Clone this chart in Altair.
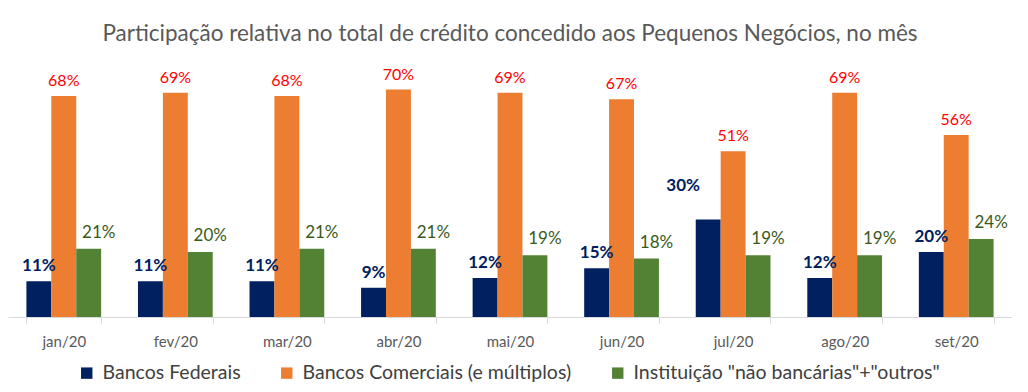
import altair as alt
import pandas as pd

months = ["jan/20", "fev/20", "mar/20", "abr/20", "mai/20", "jun/20", "jul/20", "ago/20", "set/20"]
series = ["Bancos Federais", "Bancos Comerciais (e múltiplos)", 'Instituição "não bancárias"+"outros"']
federais = [11, 11, 11, 9, 12, 15, 30, 12, 20]
comerciais = [68, 69, 68, 70, 69, 67, 51, 69, 56]
outros = [21, 20, 21, 21, 19, 18, 19, 19, 24]
colors = ["#002060", "#ED7D31", "#548235"]

rows = []
for i, m in enumerate(months):
    for s, vals in zip(series, [federais, comerciais, outros]):
        rows.append({"month": m, "series": s, "value": vals[i], "label": f"{vals[i]}%"})
df = pd.DataFrame(rows)

FONT = "Lato"

x = alt.X(
    "month:N",
    sort=months,
    scale=alt.Scale(paddingInner=0.33, paddingOuter=0.165),
    axis=alt.Axis(
        title=None, labelAngle=0, tickBand="extent", domainColor="#D9D9D9",
        tickColor="#D9D9D9", tickSize=6, labelFontSize=15, labelColor="#595959",
        labelPadding=11, labelFont=FONT, domainWidth=1,
    ),
)
xo = alt.XOffset("series:N", sort=series, scale=alt.Scale(paddingInner=0, paddingOuter=0))
y = alt.Y("value:Q", scale=alt.Scale(domain=[0, 80]), axis=None)

base = alt.Chart(df)

bars = base.mark_bar().encode(
    x=x, xOffset=xo, y=y,
    color=alt.Color(
        "series:N", sort=series,
        scale=alt.Scale(domain=series, range=colors),
        legend=alt.Legend(
            title=None, orient="none", legendX=69, legendY=306, direction="horizontal",
            symbolType="square", symbolSize=130, symbolStrokeWidth=0,
            labelFontSize=19.5, labelColor="#404040", labelFont=FONT, columnPadding=36,
            labelLimit=0, symbolOffset=0, labelOffset=6,
        ),
    ),
)

def labels(sname, color, bold, dx, dy, size):
    return base.transform_filter(alt.datum.series == sname).mark_text(
        color=color, fontWeight="bold" if bold else "normal", font=FONT,
        fontSize=size, dx=dx, dy=dy, baseline="alphabetic", align="center",
    ).encode(x=x, xOffset=xo, y=y, text="label:N")

fed_main = base.transform_filter(
    (alt.datum.series == series[0]) & (alt.datum.month != "jul/20")
).mark_text(
    color="#002060", fontWeight="bold", font=FONT, fontSize=17, dy=-10,
    baseline="alphabetic", align="center",
).encode(x=x, xOffset=xo, y=y, text="label:N")

fed_jul = base.transform_filter(
    (alt.datum.series == series[0]) & (alt.datum.month == "jul/20")
).mark_text(
    color="#002060", fontWeight="bold", font=FONT, fontSize=17, dy=-29, dx=-25,
    baseline="alphabetic", align="center",
).encode(x=x, xOffset=xo, y=y, text="label:N")

com_lbl = labels(series[1], "#FF0000", False, 0, -10, 16)
out_lbl = labels(series[2], "#3A5A1A", False, 10, -11, 17)

chart = alt.layer(bars, fed_main, fed_jul, com_lbl, out_lbl).properties(
    width=1004,
    height=260,
    title=alt.TitleParams(
        "Participação relativa no total de crédito concedido aos Pequenos Negócios, no mês",
        font=FONT, fontSize=22.5, fontWeight="normal", color="#595959", offset=12,
        anchor="middle",
    ),
    padding={"top": 14, "left": 0, "right": 0, "bottom": 0},
).configure_view(stroke=None)

chart.save("out.html", embed_options={"renderer": "svg", "actions": False})
